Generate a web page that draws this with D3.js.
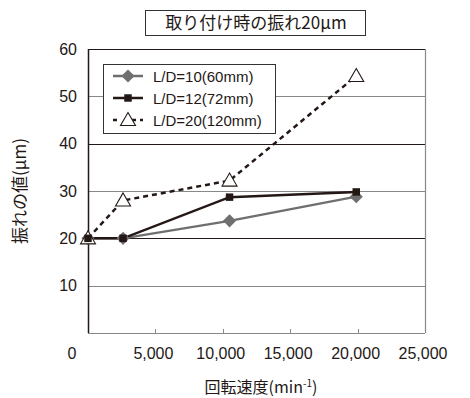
<!DOCTYPE html>
<html lang="ja">
  <head>
    <meta charset="UTF-8" />
    <title>取り付け時の振れ20μm</title>
    <script src="https://d3js.org/d3.v7.min.js"></script>
    <style>
      body {
        margin: 0;
        background: #fff;
      }
      .chart text {
        fill: #231815;
      }
    </style>
  </head>
  <body>
    <div class="chart"></div>
  </body>

  <script>
    // data
    var speeds = [0, 2600, 10500, 19900];
    var ld10 = [20, 20, 23.7, 28.8];
    var ld12 = [20, 20, 28.7, 29.8];
    var ld20 = [20, 28, 32.2, 54.3];
    var seriesNames = ["L/D=10(60mm)", "L/D=12(72mm)", "L/D=20(120mm)"];
    var xTicks = [0, 5000, 10000, 15000, 20000, 25000];
    var yTicks = [0, 10, 20, 30, 40, 50, 60];

    var W = 470,
      H = 398;
    var margin = { top: 49, right: 45, bottom: 65, left: 88 };
    var width = W - margin.left - margin.right;
    var height = H - margin.top - margin.bottom;

    var dark = "#231815";
    var gray = "#888888";
    var jp = "'Noto Sans CJK JP', sans-serif";
    var num = "'Liberation Sans', Arial, sans-serif";

    var svg = d3
      .select(".chart")
      .append("svg")
      .attr("width", W)
      .attr("height", H);

    var x = d3.scaleLinear().domain([0, 25000]).range([margin.left, margin.left + width]);
    var y = d3.scaleLinear().domain([0, 60]).range([margin.top + height, margin.top]);

    // title box
    svg
      .append("rect")
      .attr("x", 145.5)
      .attr("y", 10.5)
      .attr("width", 220)
      .attr("height", 25)
      .attr("fill", "#fff")
      .attr("stroke", "#333")
      .attr("stroke-width", 1);
    svg
      .append("text")
      .attr("x", 256)
      .attr("y", 29)
      .attr("text-anchor", "middle")
      .style("font-family", jp)
      .style("font-size", "17px")
      .text("取り付け時の振れ20μm");

    // gridlines (alternate dark / gray like the original)
    svg
      .selectAll(".grid")
      .data(yTicks)
      .enter()
      .append("line")
      .attr("class", "grid")
      .attr("x1", x(0))
      .attr("x2", x(25000))
      .attr("y1", (d) => Math.round(y(d)) + 0.5)
      .attr("y2", (d) => Math.round(y(d)) + 0.5)
      .attr("stroke", (d) => (d > 0 && d % 20 === 0 ? dark : gray))
      .attr("stroke-width", 1.2);

    // right border
    svg
      .append("line")
      .attr("x1", x(25000) + 0.5)
      .attr("x2", x(25000) + 0.5)
      .attr("y1", y(60))
      .attr("y2", y(0))
      .attr("stroke", gray)
      .attr("stroke-width", 1.2);

    // small inner ticks on x axis
    svg
      .selectAll(".xtick")
      .data(xTicks.slice(1, 5))
      .enter()
      .append("line")
      .attr("x1", (d) => Math.round(x(d)) + 0.5)
      .attr("x2", (d) => Math.round(x(d)) + 0.5)
      .attr("y1", y(0))
      .attr("y2", y(0) - 4)
      .attr("stroke", gray);

    // y axis line
    svg
      .append("line")
      .attr("x1", x(0) + 0.5)
      .attr("x2", x(0) + 0.5)
      .attr("y1", y(60))
      .attr("y2", y(0))
      .attr("stroke", dark)
      .attr("stroke-width", 1.5);

    // y tick labels
    svg
      .selectAll(".ylab")
      .data(yTicks.slice(1))
      .enter()
      .append("text")
      .attr("x", 77)
      .attr("y", (d) => y(d) + 5.5)
      .attr("text-anchor", "end")
      .style("font-family", num)
      .style("font-size", "16px")
      .text((d) => d);

    // x tick labels (the shared 0 sits left of the axis)
    svg
      .selectAll(".xlab")
      .data(xTicks)
      .enter()
      .append("text")
      .attr("x", (d) => (d === 0 ? 72 : x(d) - 2))
      .attr("y", 359)
      .attr("text-anchor", "middle")
      .style("font-family", num)
      .style("font-size", "16px")
      .text((d) => d3.format(",")(d));

    // axis titles
    svg
      .append("text")
      .attr("transform", "translate(26,191) rotate(-90)")
      .attr("text-anchor", "middle")
      .style("font-family", jp)
      .style("font-size", "17px")
      .text("振れの値(μm)");

    var xt = svg
      .append("text")
      .attr("x", 261)
      .attr("y", 393)
      .attr("text-anchor", "middle")
      .style("font-family", jp)
      .style("font-size", "16px");
    xt.append("tspan").text("回転速度(min");
    xt.append("tspan").attr("dy", -6).style("font-size", "10px").text("-1");
    xt.append("tspan").attr("dy", 6).text(")");

    // lines
    var line = d3
      .line()
      .x((d, i) => x(speeds[i]))
      .y((d) => y(d));

    svg.append("path").datum(ld10).attr("d", line).attr("fill", "none").attr("stroke", "#6f6f6f").attr("stroke-width", 2.2);
    svg.append("path").datum(ld20).attr("d", line).attr("fill", "none").attr("stroke", dark).attr("stroke-width", 2.5).attr("stroke-dasharray", "5,4");
    svg.append("path").datum(ld12).attr("d", line).attr("fill", "none").attr("stroke", dark).attr("stroke-width", 2.5);

    var diamond = d3.symbol().type(d3.symbolDiamond2).size(110);
    var square = d3.symbol().type(d3.symbolSquare).size(56);
    var triangle = "M0,-7.5L7.5,5.5L-7.5,5.5Z";

    svg
      .selectAll(".p10")
      .data(ld10)
      .enter()
      .append("path")
      .attr("d", diamond)
      .attr("transform", (d, i) => `translate(${x(speeds[i])},${y(d)})`)
      .attr("fill", "#6f6f6f");

    svg
      .selectAll(".p20")
      .data(ld20)
      .enter()
      .append("path")
      .attr("d", triangle)
      .attr("transform", (d, i) => `translate(${x(speeds[i])},${y(d)})`)
      .attr("fill", "#fff")
      .attr("stroke", dark)
      .attr("stroke-width", 1.1);

    svg
      .selectAll(".p12")
      .data(ld12)
      .enter()
      .append("path")
      .attr("d", square)
      .attr("transform", (d, i) => `translate(${x(speeds[i])},${y(d)})`)
      .attr("fill", dark);

    // legend
    var lg = svg.append("g").attr("transform", "translate(103,64)");
    lg.append("rect")
      .attr("x", 0.5)
      .attr("y", 0.5)
      .attr("width", 172)
      .attr("height", 69)
      .attr("fill", "#fff")
      .attr("stroke", "#333")
      .attr("stroke-width", 1);

    var rows = lg
      .selectAll(".row")
      .data(seriesNames)
      .enter()
      .append("g")
      .attr("transform", (d, i) => `translate(0,${12 + i * 22})`);

    rows
      .append("line")
      .attr("x1", 10)
      .attr("x2", 40)
      .attr("y1", 0)
      .attr("y2", 0)
      .attr("stroke", (d, i) => (i === 0 ? "#6f6f6f" : dark))
      .attr("stroke-width", 2.5)
      .attr("stroke-dasharray", (d, i) => (i === 2 ? "4,7,4,4,4" : null));

    rows
      .append("path")
      .attr("d", (d, i) => (i === 0 ? diamond() : i === 1 ? square() : triangle))
      .attr("transform", "translate(25,0)")
      .attr("fill", (d, i) => (i === 0 ? "#6f6f6f" : i === 1 ? dark : "#fff"))
      .attr("stroke", (d, i) => (i === 2 ? dark : "none"))
      .attr("stroke-width", 1.1);

    rows
      .append("text")
      .attr("x", 50)
      .attr("y", 5.5)
      .style("font-family", num)
      .style("font-size", "15px")
      .text((d) => d);
  </script>
</html>
